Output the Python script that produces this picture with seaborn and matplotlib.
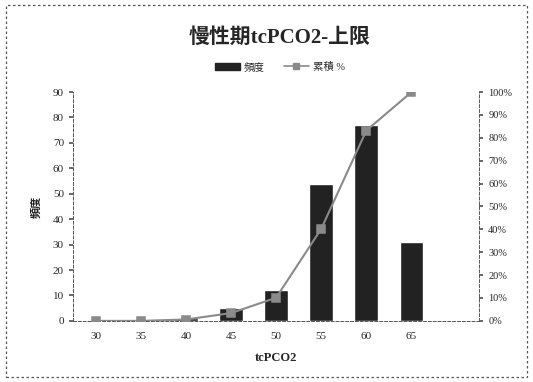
import matplotlib as mpl
import matplotlib.pyplot as plt
import seaborn as sns
import numpy as np
import pandas as pd
from matplotlib.patches import Rectangle
from matplotlib.lines import Line2D

# 慢性期 tcPCO2 上限 のヒストグラム
bins = ['30', '35', '40', '45', '50', '55', '60', '65']
freq = [0, 0, 1, 5, 12, 54, 77, 31]
cum_pct = [0.0, 0.0, 0.6, 3.4, 10.1, 40.2, 83.2, 100.0]

df = pd.DataFrame({'bin': bins, 'freq': freq, 'cum': cum_pct})

sns.set_theme(style='white')
plt.rcParams['font.family'] = ['Liberation Serif', 'Noto Sans CJK JP']

fig = plt.figure(figsize=(5.33, 3.82), dpi=100)
ax = fig.add_axes([0.137, 0.160, 0.762, 0.599])

sns.barplot(data=df, x='bin', y='freq', order=bins, color='#222222',
            width=0.53, saturation=1, ax=ax, zorder=2)
ax.set_ylim(0, 90)
ax.set_yticks(np.arange(0, 91, 10))
ax.set_ylabel('頻度', fontsize=8, fontweight='bold', labelpad=8)
ax.set_xlabel('tcPCO2', fontsize=9, fontweight='bold', labelpad=8)

ax2 = ax.twinx()
sns.pointplot(data=df, x='bin', y='cum', order=bins, color='#8a8a8a',
              markers='s', markersize=6, linewidth=1.5, ax=ax2)
ax2.set_ylim(0, 100)
ax2.set_yticks(np.arange(0, 101, 10))
ax2.set_yticklabels([f'{v}%' for v in range(0, 101, 10)])
ax2.set_ylabel('')

for a in (ax, ax2):
    a.set_xlim(-0.5, 8.5)
    for s in a.spines.values():
        s.set_linestyle((0, (3, 2)))
        s.set_linewidth(0.7)
        s.set_color('#555555')
    a.spines['top'].set_visible(False)
ax.spines['right'].set_visible(False)
ax2.spines['left'].set_visible(False)
ax2.spines['bottom'].set_visible(False)

ax.set_xticks(range(len(bins)))
ax.set_xticklabels(bins)
ax.set_xticks(np.arange(-0.5, 9, 1), minor=True)
ax.tick_params(axis='x', which='major', length=0, labelsize=8, pad=8)
ax.tick_params(axis='x', which='minor', length=3, color='#555555', direction='out')
ax.tick_params(axis='y', length=3, color='#555555', labelsize=8, direction='out', left=True)
ax2.tick_params(axis='y', length=3, color='#555555', labelsize=7.5, direction='out', right=True)

fig.text(0.525, 0.90, '慢性期tcPCO2-上限', ha='center', va='center',
         fontsize=15, fontweight='bold')

handles = [Rectangle((0, 0), 1, 1, color='#222222'),
           Line2D([], [], color='#8a8a8a', marker='s', markersize=4.5, linewidth=1.2)]
fig.legend(handles, ['頻度', '累積 %'], loc='center', bbox_to_anchor=(0.525, 0.825),
           ncol=2, frameon=False, fontsize=7.5, handlelength=2.4, columnspacing=1.8,
           handletextpad=0.4)

fig.patches.append(Rectangle((0.012, 0.012), 0.976, 0.976, transform=fig.transFigure,
                             fill=False, linestyle=(0, (2, 2)), linewidth=0.9,
                             edgecolor='#555555'))

fig.savefig('out.png', dpi=100)
